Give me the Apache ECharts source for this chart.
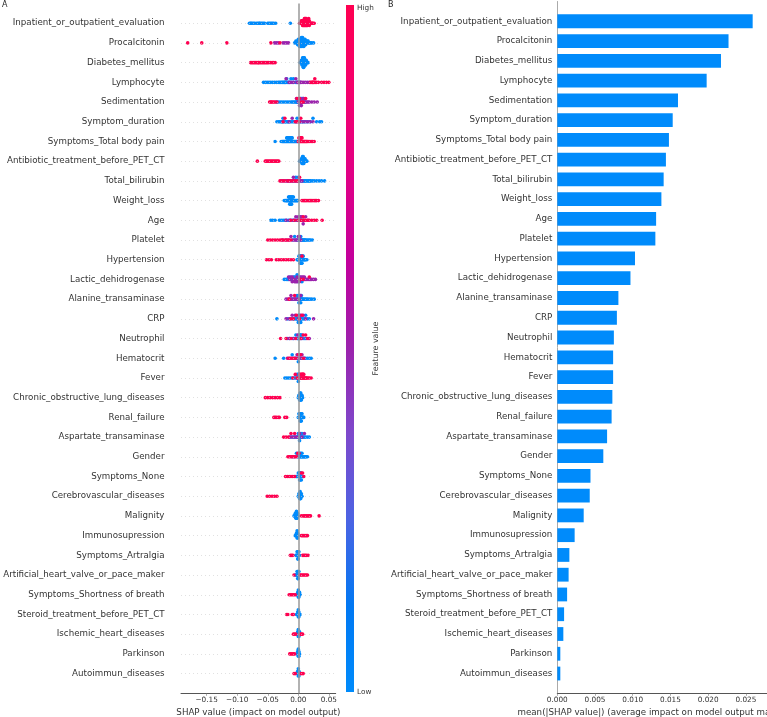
<!DOCTYPE html>
<html>
<head>
<meta charset="utf-8">
<script src="https://cdn.jsdelivr.net/npm/echarts@6/dist/echarts.min.js"></script>
<style>
html,body{margin:0;padding:0;background:#fff;}
#chart{width:767px;height:717px;}
</style>
</head>
<body>
<div id="chart"></div>
<script>
// ---------------- data ----------------
const features = ["Inpatient_or_outpatient_evaluation","Procalcitonin","Diabetes_mellitus","Lymphocyte","Sedimentation","Symptom_duration","Symptoms_Total body pain","Antibiotic_treatment_before_PET_CT","Total_bilirubin","Weight_loss","Age","Platelet","Hypertension","Lactic_dehidrogenase","Alanine_transaminase","CRP","Neutrophil","Hematocrit","Fever","Chronic_obstructive_lung_diseases","Renal_failure","Aspartate_transaminase","Gender","Symptoms_None","Cerebrovascular_diseases","Malignity","Immunosupression","Symptoms_Artralgia","Artificial_heart_valve_or_pace_maker","Symptoms_Shortness of breath","Steroid_treatment_before_PET_CT","Ischemic_heart_diseases","Parkinson","Autoimmun_diseases"];

// Panel B: mean(|SHAP value|)
const meanAbsShap = [0.0259,0.0227,0.0217,0.0198,0.0160,0.0153,0.0148,0.0144,0.0141,0.0138,0.0131,0.0130,0.0103,0.0097,0.0081,0.0079,0.0075,0.0074,0.0074,0.0073,0.0072,0.0066,0.0061,0.0044,0.0043,0.0035,0.0023,0.0016,0.0015,0.0013,0.0009,0.0008,0.0004,0.0004];

// Panel A: SHAP values (x 1/1000) per feature, split by feature value level
const shapLow = [
 [-80,-78,-77,-75,-73,-71,-68,-66,-64,-63,-61,-59,-57,-55,-50,-48,-46,-44,-42,-40,-37,-13],
 [-6,-4,-3,-2,-1,-1,0,0,1,1,2,2,3,3,3,4,4,4,5,5,5,6,6,6,7,7,7,8,8,8,9,9,10,10,11,11,12,12,13,14,15,16,17,18,20,22,25],
 [3,4,5,5,6,6,6,7,7,7,7,8,8,8,8,8,9,9,9,9,9,10,10,10,10,11,11,11,12,12,12,13,13,14,15,16],
 [-57,-54,-51,-48,-45,-42,-39,-36,-33,-31,-29,-27,-26,-24,-23,-22,-21,-20,-19,-18,-16,-14,-12,-10,-8,-5,-3,-1,1,3],
 [-36,-33,-30,-27,-24,-21,-18,-15,-12,-10,-8,-6,-4,-3,-2,-1,0,1,2,3,4,5,7,9,11],
 [-35,-32,-30,-28,-27,-26,-25,-24,-22,-21,-20,-18,-17,-16,-14,-12,-10,-8,-6,-4,-2,0,2,4,6,8,10,13,16,20,24,30,35,38],
 [-38,-28,-26,-25,-24,-23,-22,-21,-20,-19,-19,-18,-18,-17,-17,-16,-16,-15,-15,-14,-14,-13,-13,-12,-12,-11,-11,-10,-10,-9,-8,-7,-6,-5,-4,-3,-2,-1],
 [2,3,4,5,5,6,6,6,7,7,7,7,8,8,8,8,9,9,9,10,10,11,11,12,13,14],
 [-8,-4,0,2,5,7,8,10,11,12,14,16,17,19,20,23,26,30,34,38,43],
 [-23,-21,-20,-19,-18,-17,-16,-16,-15,-15,-14,-14,-14,-13,-13,-13,-12,-12,-12,-11,-11,-11,-10,-10,-9,-9,-8,-8,-7,-6,-5,-4,-3,-2,-1],
 [-45,-42,-38,-31,-28,-25,-22,-19,-16,-13,-10,-7,-4,-1,2,5,8],
 [-10,-6,-3,0,1,2,3,4,5,6,7,8,9,10,11,12,14,16,18,20,23],
 [-2,-1,0,1,1,2,2,3,3,3,4,4,4,5,5,5,6,6,7,7,8,8,9,10,11,12,14],
 [-23,-20,-18,-16,-14,-12,-10,-8,-6,-4,-2,0,2,4,6,-4,-2,0],
 [-12,-9,-6,-4,-2,-1,0,1,1,2,2,3,3,4,4,5,5,6,7,8,10,12,14,16,19,22,26],
 [-35,-18,-14,-10,-7,-5,-3,-1,0,1,2,3,4,5,6,8,10,12,15,18,-2,0,2,4],
 [-18,-14,-10,-7,-4,-2,0,1,2,3,4,5,6,8,10,12,-1,1,3],
 [-38,-24,-10,-5,0,3,6,9,12,15,18,21,-2,2],
 [-22,-19,-16,-13,-10,-7,-5,-3,-2,-1,0,0,1,1,2,3],
 [0,1,1,2,2,2,3,3,3,3,4,4,4,4,5,5,5,6,6,7],
 [0,1,1,2,2,3,3,3,4,4,4,5,5,5,6,6,7,8,9],
 [-12,-8,-5,-3,-1,0,1,2,3,4,5,6,7,8,10,12,15,18,0,2,4],
 [-10,-6,-3,-1,0,1,2,3,4,5,6,7,8,9,10,11,12,13,15,2,4,6],
 [-4,-3,-2,-1,0,0,1,1,2,2,2,3,3,3,4,4,5,5,6,7,8],
 [0,1,1,2,2,2,3,3,3,3,4,4,4,5,5,6],
 [-7,-6,-5,-5,-4,-4,-4,-3,-3,-3,-3,-2,-2,-2,-1,-1,0],
 [-5,-4,-3,-3,-2,-2,-2,-2,-1,-1,-1,0],
 [-4,-3,-2,-2,-1,-1,-1,0,0,0,1,1,2],
 [-5,-4,-3,-2,-2,-1,-1,-1,0,0,0,1,1,2],
 [-3,-2,-1,-1,0,0,0,0,1,1,1,2,2,3],
 [-3,-2,-1,-1,0,0,0,0,1,1,1,2,3],
 [-2,-1,-1,0,0,0,0,1,1,1,2,2],
 [-2,-1,-1,0,0,0,0,1,1,1,2],
 [-2,-1,-1,0,0,0,0,1,1,1,2]
];
const shapMid = [
 [],
 [-39,-36,-33,-25,-22,-19,-16],
 [],
 [-20,-15,-12,-8,-4,-2,0,2,4,6,9,12,15,18],
 [-3,0,2,3,4,5,6,7,8,9,10,12,14,16,18,22,26,31],
 [-15,-10,-3,3,7,11,15,19,24],
 [],
 [],
 [-28,-24,-20,-18,-16,-14,-12,-10,-8,-6,-4,-2,0,3,6],
 [],
 [-20,-14,-8,-4,-2,0,1,3,4,6,8,9,12,16],
 [-26,-20,-16,-12,-8,-6,-4,-2,0,2,4],
 [],
 [-16,-14,-12,-10,-8,-6,-4,-2,0,2,4,6,8,10,12,14,16,18,20,22,25,28,-10,-6,-2,2,6,10],
 [-20,-17,-14,-12,-11,-8,-5,-2,1,4],
 [-20,-15,-10,-5,0,4,8,12,25],
 [-15,-8,-1,6,14,18],
 [-18,-14,-10,-6,-2,2,6,10,0,4],
 [],[],[],
 [-14,-10,-6,-2,2,6,10],
 [],[],[],[],[],[],[],[],[],[],[],[]
];
const shapHigh = [
 [2,3,4,5,5,6,6,7,7,7,8,8,8,9,9,9,10,10,10,10,11,11,11,11,12,12,12,12,13,13,13,13,14,14,14,15,15,15,16,16,17,17,18,18,19,20,21,22,23,24,26],
 [-181,-158,-117,-45,-30],
 [-78,-76,-74,-72,-70,-68,-66,-65,-63,-61,-59,-57,-55,-53,-51,-49,-46,-43,-41,-38],
 [20,22,23,24,25,26,27,28,30,33,38,42,46,50],
 [-47,-45,-44,-42,-40,-38,-35,-2,2,5,8,12],
 [-25,-22,-5,-2,1,4],
 [0,1,1,2,2,3,3,4,4,5,5,6,6,7,8,9,10,11,12,13,14,15,17,19,21,23,26],
 [-67,-54,-52,-50,-48,-46,-44,-42,-40,-38,-36,-34,-32],
 [-30,-26,-22,-17,-13,-9,-5,-1,2],
 [6,8,10,12,14,16,18,20,22,24,26,28,30,33],
 [-12,-6,0,2,4,6,8,10,12,15,18,22,26,30,39],
 [-50,-46,-42,-38,-34,-30,-27,-24,-21,-18,-15,-12],
 [-52,-48,-44,-36,-32,-28,-24,-20,-16,-12,-8,6],
 [3,8,18],
 [-15,-6],
 [-12,-8,-3,2,6],
 [-29,-20,-12,-4,4,8,12,16],
 [-16,-12,-8,-4,0,4,8],
 [-9,-5,-2,0,2,3,4,5,5,6,6,7,7,8,8,9,9,10,11,12,13,14,16,18,21],
 [-54,-50,-46,-42,-38,-34,-30],
 [-40,-38,-36,-33,-31,-22,-19],
 [-24,-20,-16,-12,-6],
 [-17,-15,-13,-11,-9,-7,-5,-3,-1,1],
 [-21,-18,-15,-12,-9,-6,5,7,9],
 [-51,-47,-43,-39,-35],
 [5,8,10,12,14,16,18,20,34],
 [5,7,9,11,13,15],
 [-13,-11,-9,7,9,11,13,16],
 [-7,3,5,7,9,11,13,15],
 [-15,-13,-11,-9,-7,-5],
 [-19,-17,-10,-8],
 [-8,-6,-4,3,5,7],
 [-14,-12,-10,-8,-6],
 [-7,-5,4,6,8]
];
const levelValue = {low: 0, mid: 0.5, high: 1};
const shapTicks = [-0.15, -0.10, -0.05, 0, 0.05];
const barTicks = [0, 0.005, 0.010, 0.015, 0.020, 0.025];
const shapColors = ['#008BFB','#0078F3','#4B63E3','#7D49CC','#9B23AD','#C2009C','#E00086','#F5006D','#FF0051'];

// ---------------- beeswarm layout (shap algorithm) ----------------
function swarmRow(row) {
  const pts = [];
  shapLow[row].forEach(v => pts.push([v / 1000, levelValue.low]));
  shapMid[row].forEach(v => pts.push([v / 1000, levelValue.mid]));
  shapHigh[row].forEach(v => pts.push([v / 1000, levelValue.high]));
  const N = pts.length;
  if (!N) return [];
  const xs = pts.map(p => p[0]);
  const mn = Math.min(...xs), mx = Math.max(...xs);
  const quant = xs.map(x => Math.round(100 * (x - mn) / (mx - mn + 1e-8)));
  const order = pts.map((p, i) => i).sort((a, b) =>
    quant[a] - quant[b] || ((a * 37) % 53) - ((b * 37) % 53));
  const ys = new Array(N).fill(0);
  let layer = 0, last = -1;
  order.forEach(ind => {
    if (quant[ind] !== last) layer = 0;
    ys[ind] = Math.ceil(layer / 2) * ((layer % 2) * 2 - 1);
    layer++;
    last = quant[ind];
  });
  const maxY = Math.max(...ys.map(y => y + 1));
  const scale = 0.9 * 0.4 / maxY;
  return pts.map((p, i) => [p[0], row - ys[i] * scale, p[1]]);
}
let swarmData = [];
features.forEach((f, i) => { swarmData = swarmData.concat(swarmRow(i)); });

const fontFam = 'DejaVu Sans';
const txt = '#333333';
const fmtShap = v => (v < 0 ? '\u2212' : '') + Math.abs(v).toFixed(2);
const fmtBar = v => v.toFixed(3);

const barCats = [''].concat(features, ['']);
const barData = ['-'].concat(meanAbsShap, ['-']);

const chart = echarts.init(document.getElementById('chart'), null, {renderer: 'canvas'});
chart.setOption({
  animation: false,
  backgroundColor: '#ffffff',
  textStyle: {fontFamily: fontFam},
  grid: [
    {left: 181, right: 431.3, top: 3.5, bottom: 23.7, containLabel: false, outerBoundsMode: 'none'},
    {left: 557.3, right: 0, top: 1.5, bottom: 23.7, containLabel: false, outerBoundsMode: 'none'}
  ],
  xAxis: [
    {
      type: 'value', gridIndex: 0, min: -0.192, max: 0.0612,
      name: 'SHAP value (impact on model output)', nameLocation: 'middle', nameGap: 13.5,
      nameTextStyle: {fontSize: 8.7, color: txt, fontFamily: fontFam},
      axisLine: {show: true, onZero: false, lineStyle: {color: '#555', width: 1}},
      axisTick: {show: true, length: 2.5, lineStyle: {color: '#777', width: 0.6}, customValues: shapTicks},
      axisLabel: {customValues: shapTicks, formatter: fmtShap, fontSize: 7.3, color: txt, margin: 3.5, fontFamily: fontFam},
      splitLine: {show: false}
    },
    {
      type: 'value', gridIndex: 1, min: 0, max: 0.0278,
      name: 'mean(|SHAP value|) (average impact on model output magnitude)', nameLocation: 'middle', nameGap: 13.5,
      nameTextStyle: {fontSize: 8.7, color: txt, fontFamily: fontFam},
      axisLine: {show: true, onZero: false, lineStyle: {color: '#555', width: 1}},
      axisTick: {show: true, length: 2.5, lineStyle: {color: '#777', width: 0.6}, customValues: barTicks},
      axisLabel: {customValues: barTicks, formatter: fmtBar, fontSize: 7.3, color: txt, margin: 3.5, fontFamily: fontFam},
      splitLine: {show: false}
    }
  ],
  yAxis: [
    {
      type: 'value', gridIndex: 0, min: -1, max: 34, inverse: true,
      axisLine: {show: false, onZero: false}, axisTick: {show: false}, splitLine: {show: false},
      axisLabel: {customValues: features.map((f, i) => i), formatter: v => features[v] || '',
                  fontSize: 8.7, color: txt, margin: 16.5, fontFamily: fontFam}
    },
    {
      type: 'category', gridIndex: 1, data: barCats, inverse: true, boundaryGap: false,
      axisLine: {show: true, onZero: false, lineStyle: {color: '#aaaaaa', width: 1}},
      axisTick: {show: false}, splitLine: {show: false},
      axisLabel: {interval: 0, fontSize: 8.7, color: txt, margin: 5, fontFamily: fontFam}
    }
  ],
  visualMap: {
    show: false, type: 'continuous', min: 0, max: 1, dimension: 2, seriesIndex: 1,
    inRange: {color: shapColors}
  },
  series: [
    {
      type: 'line', xAxisIndex: 0, yAxisIndex: 0, data: [], z: 1, silent: true,
      markLine: {
        silent: true, symbol: ['none', 'none'], label: {show: false},
        lineStyle: {color: '#cccccc', width: 0.6, type: [1, 3]},
        data: features.map((f, i) => ({yAxis: i})).concat([
          {xAxis: 0, lineStyle: {color: '#999999', width: 1.5, type: 'solid'}}
        ])
      }
    },
    {
      type: 'scatter', xAxisIndex: 0, yAxisIndex: 0, z: 3,
      symbol: 'circle', symbolSize: 3.6, data: swarmData,
      itemStyle: {opacity: 1}
    },
    {
      type: 'bar', xAxisIndex: 1, yAxisIndex: 1, data: barData, barWidth: 13.8,
      itemStyle: {color: '#008BFB'}
    }
  ],
  graphic: [
    {type: 'rect', left: 346, top: 5, shape: {width: 8, height: 687},
     style: {fill: new echarts.graphic.LinearGradient(0, 0, 0, 1,
       shapColors.slice().reverse().map((c, i, a) => ({offset: i / (a.length - 1), color: c})))}},
    {type: 'text', x: 357, y: 8, style: {text: 'High', fontSize: 7.3, fill: txt, fontFamily: fontFam, verticalAlign: 'middle'}},
    {type: 'text', x: 357, y: 692, style: {text: 'Low', fontSize: 7.3, fill: txt, fontFamily: fontFam, verticalAlign: 'middle'}},
    {type: 'text', x: 376, y: 348.5, rotation: Math.PI / 2,
     style: {text: 'Feature value', fontSize: 7.9, fill: txt, fontFamily: fontFam, align: 'center', verticalAlign: 'middle'}},
    {type: 'text', x: 2, y: 1, style: {text: 'A', fontSize: 8, fill: '#222', fontFamily: fontFam}},
    {type: 'text', x: 388, y: 1, style: {text: 'B', fontSize: 8, fill: '#222', fontFamily: fontFam}}
  ]
});
</script>
</body>
</html>
